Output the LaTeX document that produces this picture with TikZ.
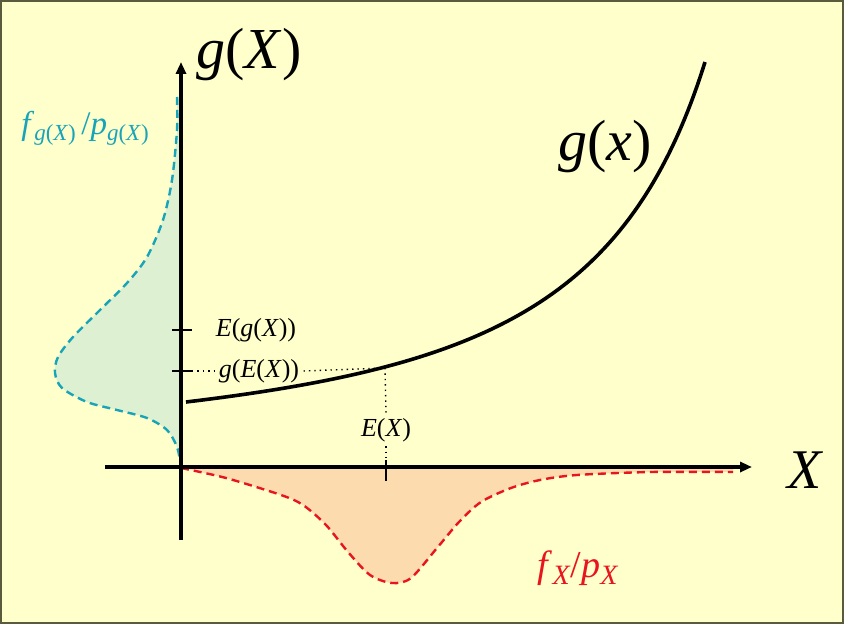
\documentclass[tikz,border=0pt]{standalone}
\usepackage{fontspec}
\setmainfont{Liberation Serif}
\usetikzlibrary{arrows.meta}

\definecolor{paper}{HTML}{FFFFCC}
\definecolor{frame}{HTML}{5A5A3C}
\definecolor{tealline}{HTML}{17A3B8}
\definecolor{greenfill}{HTML}{DDF0D2}
\definecolor{redline}{HTML}{E8141E}
\definecolor{peachfill}{HTML}{FCDCAE}

\newcommand{\iv}[1]{\textit{#1}}

\begin{document}
\begin{tikzpicture}[x=0.5pt, y=-0.5pt,
    axis/.style={line width=1.6pt, -{Triangle[length=6pt, width=5pt]}},
    curve/.style={line width=1.8pt},
    density/.style={line width=1.2pt, dash pattern=on 4pt off 2.5pt},
    guide/.style={line width=0.7pt, dotted},
    tick/.style={line width=0.8pt},
    biglabel/.style={font=\fontsize{29}{29}\selectfont, inner sep=0pt},
    smalllabel/.style={font=\fontsize{13}{14}\selectfont, inner sep=2pt}
  ]
  \useasboundingbox (0,0) rectangle (844,624);
  \draw[fill=paper, draw=frame, line width=1pt] (1,1) rectangle (843,623);

  % reference points
  \coordinate (O) at (181,467);
  \coordinate (ytop) at (181,62);
  \coordinate (ybot) at (181,540);
  \coordinate (xleft) at (105,467);
  \coordinate (xright) at (752,467);
  \coordinate (P) at (385,368);

  % density of g(X)
  \fill[greenfill] (181,97) -- plot[smooth] coordinates {(177,97) (177,130) (172,180) (163,220) (147,257) (127,283) (100,310) (73,337) (58,357) (55,373) (62,388) (87,402) (117,410) (147,418) (167,430) (177,447) (181,466)} -- cycle;
  \draw[density, tealline] plot[smooth] coordinates {(177,97) (177,130) (172,180) (163,220) (147,257) (127,283) (100,310) (73,337) (58,357) (55,373) (62,388) (87,402) (117,410) (147,418) (167,430) (177,447) (181,466)};

  % density of X
  \fill[peachfill] (O) -- plot[smooth] coordinates {(181,468) (226,478) (281,495) (303,505) (326,525) (348,552) (370,575) (392,583) (411,578) (437,548) (459,522) (481,502) (511,488) (540,480) (577,475) (651,472) (733,472)} -- (733,467) -- cycle;
  \draw[density, redline] plot[smooth] coordinates {(181,468) (226,478) (281,495) (303,505) (326,525) (348,552) (370,575) (392,583) (411,578) (437,548) (459,522) (481,502) (511,488) (540,480) (577,475) (651,472) (733,472)};

  % axes
  \draw[axis] (xleft) -- (xright);
  \draw[axis] (ybot) -- (ytop);

  % g(x)
  \draw[curve] (186,402) .. controls (486,366) and (630,302) .. (705,62);

  % labels
  \node[biglabel] (gXlab) at (249,55) {\iv{g}(\iv{X})};
  \node[biglabel, font=\fontsize{28}{28}\selectfont] (Xlab) at (805,470) {\iv{X}};
  \node[biglabel] (gxlab) at (605,147) {\iv{g}(\iv{x})};
  \node[font=\fontsize{16.5}{18}\selectfont, text=tealline, inner sep=0pt] (fglab) at (85,128)
    {\iv{f}\raisebox{-0.4ex}{\fontsize{11.5}{12}\selectfont\iv{g}(\iv{X})}\,/\iv{p}\raisebox{-0.4ex}{\fontsize{11.5}{12}\selectfont\iv{g}(\iv{X})}};
  \node[font=\fontsize{19}{20}\selectfont, text=redline, inner sep=0pt] (fxlab) at (578,568)
    {\iv{f}\raisebox{-0.4ex}{\fontsize{14}{14}\selectfont\iv{X}}/\iv{p}\raisebox{-0.4ex}{\fontsize{14}{14}\selectfont\iv{X}}};

  % expectations
  \coordinate (tEg) at (181,330);
  \coordinate (tgE) at (181,371);
  \coordinate (tEX) at (386,467);
  \draw[tick] ([xshift=-4.5pt]tEg) -- ([xshift=5.5pt]tEg);
  \draw[tick] ([xshift=-4.5pt]tgE) -- ([xshift=5.5pt]tgE);
  \draw[tick] ([yshift=3.5pt]tEX) -- ([yshift=-7pt]tEX);
  \node[smalllabel] (Eg) at (256,330) {\iv{E}(\iv{g}(\iv{X}))};
  \node[smalllabel] (gE) at (259,371) {\iv{g}(\iv{E}(\iv{X}))};
  \node[smalllabel] (EX) at (386,430) {\iv{E}(\iv{X})};
  \draw[guide] ([xshift=5.5pt]tgE) -- (gE.west);
  \draw[guide] (gE.east) -- (P);
  \draw[guide] (P) -- (EX.north);
  \draw[guide] (EX.south) -- (tEX);
\end{tikzpicture}
\end{document}
